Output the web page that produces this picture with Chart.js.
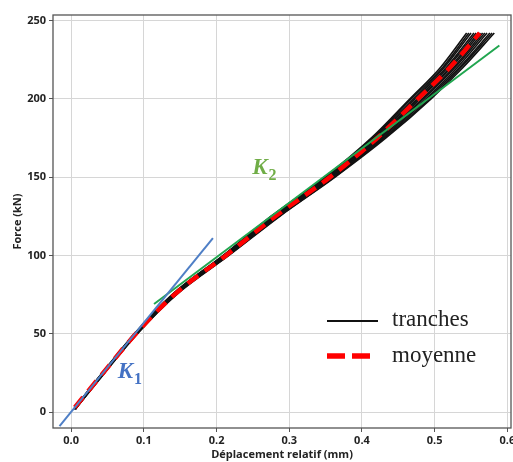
<!DOCTYPE html>
<html>
<head>
<meta charset="utf-8">
<script src="https://cdn.jsdelivr.net/npm/chart.js@4"></script>
<style>
  html, body { margin: 0; padding: 0; background: #fff; }
  #wrap { width: 513px; height: 462px; }
</style>
</head>
<body>
<div id="wrap"><canvas id="myChart" width="513" height="462"></canvas></div>
<script>
// niveaux de force (kN) communs aux tranches
const forceLevels = [2, 25, 50, 75, 100, 125, 150, 175, 200, 220, 242];

// déplacement relatif (mm) de chaque tranche
const tranchesX = [
  [0.004, 0.043, 0.087, 0.139, 0.209, 0.275, 0.349, 0.413, 0.466, 0.508, 0.544],
  [0.004, 0.043, 0.087, 0.139, 0.210, 0.276, 0.350, 0.415, 0.468, 0.511, 0.547],
  [0.004, 0.043, 0.088, 0.140, 0.210, 0.277, 0.351, 0.416, 0.471, 0.513, 0.550],
  [0.004, 0.044, 0.088, 0.140, 0.211, 0.278, 0.353, 0.418, 0.473, 0.516, 0.554],
  [0.005, 0.044, 0.088, 0.141, 0.212, 0.279, 0.354, 0.420, 0.476, 0.518, 0.557],
  [0.005, 0.044, 0.089, 0.141, 0.212, 0.280, 0.355, 0.421, 0.478, 0.521, 0.560],
  [0.005, 0.044, 0.089, 0.142, 0.213, 0.281, 0.356, 0.423, 0.480, 0.523, 0.563],
  [0.005, 0.045, 0.089, 0.142, 0.214, 0.282, 0.357, 0.425, 0.483, 0.526, 0.566],
  [0.005, 0.045, 0.090, 0.143, 0.214, 0.283, 0.358, 0.426, 0.485, 0.528, 0.569],
  [0.006, 0.045, 0.090, 0.143, 0.215, 0.284, 0.360, 0.428, 0.488, 0.531, 0.572],
  [0.006, 0.045, 0.090, 0.144, 0.216, 0.285, 0.361, 0.430, 0.490, 0.534, 0.576],
  [0.006, 0.046, 0.091, 0.144, 0.216, 0.286, 0.362, 0.431, 0.493, 0.536, 0.579],
  [0.006, 0.046, 0.091, 0.145, 0.217, 0.287, 0.363, 0.433, 0.495, 0.539, 0.582]
];

// courbe moyenne
const moyenneF = [3, 25, 50, 75, 100, 125, 150, 175, 200, 220, 242];
const moyenneX = [0.005, 0.044, 0.089, 0.142, 0.213, 0.281, 0.356, 0.421, 0.477, 0.521, 0.562];

// droites de raideur K1 et K2
const k1X = [-0.016, 0.195];
const k1F = [-9, 111];
const k2X = [0.114, 0.589];
const k2F = [69, 234];

// graduations
const xTicks = [0.0, 0.1, 0.2, 0.3, 0.4, 0.5, 0.6];
const yTicks = [0, 50, 100, 150, 200, 250];

const pts = (xs, ys) => xs.map((x, i) => ({ x: x, y: ys[i] }));

const datasets = [];
tranchesX.forEach((xs) => {
  datasets.push({
    label: 'tranches',
    data: pts(xs, forceLevels),
    borderColor: '#111',
    borderWidth: 1.6,
    pointRadius: 0,
    cubicInterpolationMode: 'monotone',
    order: 4
  });
});
datasets.push({
  label: 'moyenne',
  data: pts(moyenneX, moyenneF),
  borderColor: '#ff0000',
  borderWidth: 4.5,
  borderDash: [13, 8],
  pointRadius: 0,
  cubicInterpolationMode: 'monotone',
  order: 3
});
datasets.push({
  label: 'K2',
  data: pts(k2X, k2F),
  borderColor: '#21a650',
  borderWidth: 2,
  pointRadius: 0,
  order: 2
});
datasets.push({
  label: 'K1',
  data: pts(k1X, k1F),
  borderColor: '#4f7fc6',
  borderWidth: 2,
  pointRadius: 0,
  order: 1
});

const tickFont = { family: 'Open Sans', size: 11, weight: 'bold' };

// cadre, annotations K1/K2 et légende
const decor = {
  id: 'decor',
  afterDraw(chart) {
    const c = chart.ctx;
    const a = chart.chartArea;
    const xs = chart.scales.x, ys = chart.scales.y;
    c.save();
    c.strokeStyle = '#555';
    c.lineWidth = 1.3;
    c.strokeRect(a.left, a.top, a.right - a.left, a.bottom - a.top);

    // K1
    c.fillStyle = '#4472c4';
    c.textBaseline = 'alphabetic';
    let px = xs.getPixelForValue(0.064), py = ys.getPixelForValue(22);
    c.font = 'italic bold 23px "Liberation Serif"';
    c.fillText('K', px, py);
    let w = c.measureText('K').width;
    c.font = 'bold 16px "Liberation Serif"';
    c.fillText('1', px + w + 1, py + 6);

    // K2
    c.fillStyle = '#70ad47';
    px = xs.getPixelForValue(0.249); py = ys.getPixelForValue(152);
    c.font = 'italic bold 23px "Liberation Serif"';
    c.fillText('K', px, py);
    w = c.measureText('K').width;
    c.font = 'bold 16px "Liberation Serif"';
    c.fillText('2', px + w + 1, py + 6);

    // légende
    c.strokeStyle = '#111';
    c.lineWidth = 2;
    c.beginPath();
    c.moveTo(327, 321);
    c.lineTo(378, 321);
    c.stroke();
    c.strokeStyle = '#ff0000';
    c.lineWidth = 5.5;
    c.setLineDash([18, 7]);
    c.beginPath();
    c.moveTo(327, 356);
    c.lineTo(372, 356);
    c.stroke();
    c.setLineDash([]);
    c.fillStyle = '#222';
    c.font = '23px "Liberation Serif"';
    c.textBaseline = 'middle';
    c.fillText('tranches', 392, 320);
    c.fillText('moyenne', 392, 356);
    c.restore();
  }
};

const ctx = document.getElementById('myChart');

new Chart(ctx, {
  type: 'scatter',
  data: { datasets: datasets },
  options: {
    responsive: false,
    animation: false,
    showLine: true,
    layout: { padding: { top: 15, right: 2, left: 0, bottom: 0 } },
    plugins: {
      legend: { display: false },
      tooltip: { enabled: false }
    },
    scales: {
      x: {
        type: 'linear',
        min: -0.025,
        max: 0.605,
        afterFit(s) { s.height = 34; s.paddingLeft = 0; s.paddingRight = 0; },
        afterBuildTicks(s) { s.ticks = xTicks.map(v => ({ value: v })); },
        border: { display: false },
        grid: { color: '#d6d6d6', lineWidth: 1, tickLength: 4, tickColor: '#555' },
        ticks: {
          font: tickFont,
          color: '#222',
          padding: 2,
          autoSkip: false,
          maxRotation: 0,
          callback: v => v.toFixed(1)
        },
        title: {
          display: true,
          text: 'Déplacement relatif (mm)',
          font: tickFont,
          color: '#222',
          padding: { top: 0, bottom: 1 }
        }
      },
      y: {
        type: 'linear',
        min: -10.2,
        max: 253.5,
        afterFit(s) { s.width = 53; s.paddingTop = 0; s.paddingBottom = 0; },
        afterBuildTicks(s) { s.ticks = yTicks.map(v => ({ value: v })); },
        border: { display: false },
        grid: { color: '#d6d6d6', lineWidth: 1, tickLength: 4, tickColor: '#555' },
        ticks: {
          font: tickFont,
          color: '#222',
          padding: 3
        },
        title: {
          display: true,
          text: 'Force (kN)',
          font: tickFont,
          color: '#222',
          padding: { top: 11, bottom: 0 }
        }
      }
    }
  },
  plugins: [decor]
});
</script>
</body>
</html>
